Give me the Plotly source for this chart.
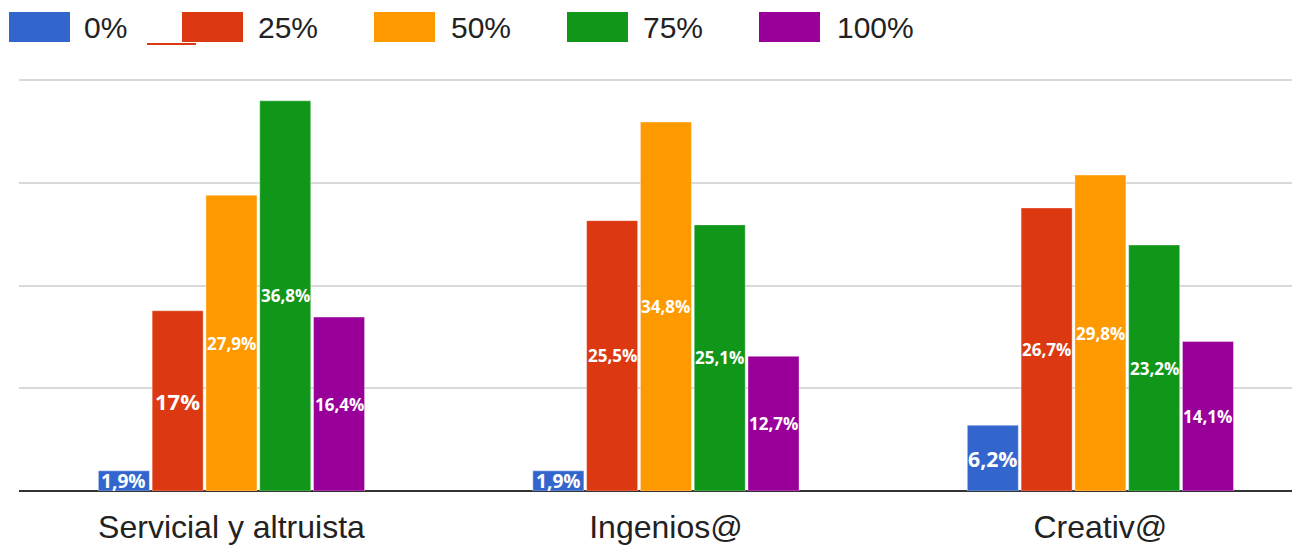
import plotly.graph_objects as go

# Survey results: share of respondents per rating level, by trait
categories = ["Servicial y altruista", "Ingenios@", "Creativ@"]
levels = ["0%", "25%", "50%", "75%", "100%"]
pct_0 = [1.9, 1.9, 6.2]
pct_25 = [17.0, 25.5, 26.7]
pct_50 = [27.9, 34.8, 29.8]
pct_75 = [36.8, 25.1, 23.2]
pct_100 = [16.4, 12.7, 14.1]
series = [pct_0, pct_25, pct_50, pct_75, pct_100]

colors = ["#3366cc", "#dc3912", "#ff9900", "#109618", "#990099"]

# Gridlines every 25 responses out of 258 respondents
respondents = 258
grid_step = 25 / respondents * 100

W, H = 1300, 550
ML, MR, MT, MB = 19, 8, 78, 59
PW = W - ML - MR
PH = H - MT - MB

X_RANGE = [-0.489, 2.441]
BARGAP = 0.381
GROUPGAP = 0.052
Y_TOP = grid_step * 4.02


def px_x(px):
    return (px - ML) / PW


def px_y(py):
    return 1 - (py - MT) / PH


def fmt(v):
    return f"{v:g}".replace(".", ",") + "%"


# approximate advance widths (em) of the bold label font
GLYPH_EM = {",": 0.28, "%": 0.88}


def label_size(text, avail_w, avail_h, max_size=22):
    em = sum(GLYPH_EM.get(ch, 0.572) for ch in text)
    return min(max_size, avail_w / em, avail_h)


# pixel geometry of one bar slot within a category group
cat_px = PW / (X_RANGE[1] - X_RANGE[0])
slot_px = cat_px * (1 - BARGAP) / len(levels)
bar_px = slot_px * (1 - GROUPGAP)
pct_px = PH / Y_TOP

fig = go.Figure()
annotations = []
for i, (name, vals, col) in enumerate(zip(levels, series, colors)):
    fig.add_trace(go.Bar(
        name=name,
        x=categories,
        y=vals,
        marker=dict(color=col, line=dict(color="rgba(255,255,255,0.35)", width=1)),
        hoverinfo="skip",
        showlegend=False,
    ))
    offset = (i - (len(levels) - 1) / 2) * slot_px
    for cat, v in zip(categories, vals):
        txt = fmt(v)
        size = label_size(txt, bar_px - 2, v * pct_px - 1)
        annotations.append(dict(
            x=cat, y=v / 2, xref="x", yref="y",
            xshift=offset, showarrow=False,
            xanchor="center", yanchor="middle",
            text=f"<b>{txt}</b>",
            font=dict(family="Open Sans", size=size, color="white"),
        ))

# Legend drawn as large swatches with labels across the top
legend_swatch_left = [9, 182, 374, 567, 759]
legend_text_left = [84, 258, 451, 643, 837]
shapes = []
for name, col, sx, tx in zip(levels, colors, legend_swatch_left, legend_text_left):
    shapes.append(dict(
        type="rect", xref="paper", yref="paper",
        x0=px_x(sx), x1=px_x(sx + 61), y0=px_y(42), y1=px_y(12),
        fillcolor=col, line=dict(width=0), layer="above",
    ))
    annotations.append(dict(
        xref="paper", yref="paper", x=px_x(tx - 2), y=px_y(27),
        xanchor="left", yanchor="middle", showarrow=False,
        text=name, font=dict(family="Liberation Sans, Arial", size=30, color="#222222"),
    ))

# Small red stroke beside the 25% key
shapes.append(dict(
    type="line", xref="paper", yref="paper",
    x0=px_x(147), x1=px_x(196), y0=px_y(44), y1=px_y(44),
    line=dict(color="#dc3912", width=2), layer="above",
))

fig.update_layout(
    width=W, height=H,
    margin=dict(l=ML, r=MR, t=MT, b=MB, pad=0, autoexpand=False),
    paper_bgcolor="white",
    plot_bgcolor="white",
    barmode="group",
    bargap=BARGAP,
    bargroupgap=GROUPGAP,
    shapes=shapes,
    annotations=annotations,
    xaxis=dict(
        range=X_RANGE,
        automargin=False,
        showgrid=False,
        showline=False,
        ticks="outside",
        ticklen=8,
        tickcolor="rgba(0,0,0,0)",
        tickfont=dict(family="Liberation Sans, Arial", size=32, color="#222222"),
        fixedrange=True,
    ),
    yaxis=dict(
        range=[0, Y_TOP],
        automargin=False,
        dtick=grid_step,
        tick0=0,
        showticklabels=False,
        showgrid=True,
        gridcolor="#d9d9d9",
        gridwidth=2,
        zeroline=True,
        zerolinecolor="#333333",
        zerolinewidth=2,
        fixedrange=True,
    ),
)

fig.write_html("out.html")
